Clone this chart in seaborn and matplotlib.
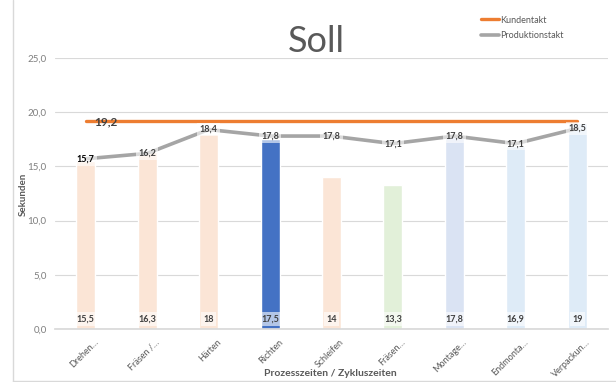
import matplotlib
matplotlib.use("Agg")
import matplotlib.pyplot as plt
from matplotlib.lines import Line2D
import matplotlib.transforms as mtransforms
import seaborn as sns
import pandas as pd

categories = ["Drehen…", "Fräsen /…", "Härten", "Richten", "Schleifen",
              "Fräsen…", "Montage…", "Endmonta…", "Verpackun…"]
prozesszeiten = [15.5, 16.3, 18, 17.5, 14, 13.3, 17.8, 16.9, 19]
produktionstakt = [15.7, 16.2, 18.4, 17.8, 17.8, 17.1, 17.8, 17.1, 18.5]
kundentakt = [19.2] * 9
bar_colors = ["#FBE5D6", "#FBE5D6", "#FBE5D6", "#4472C4", "#FBE5D6",
              "#E2F0D9", "#DAE3F3", "#DEEBF7", "#DEEBF7"]
yticks = [0, 5, 10, 15, 20, 25]

df = pd.DataFrame({"Kategorie": categories, "Prozess": prozesszeiten,
                   "Produktionstakt": produktionstakt, "Kundentakt": kundentakt})

sns.set_theme(style="white")
plt.rcParams["font.family"] = ["Lato", "DejaVu Sans"]

fig = plt.figure(figsize=(6.16, 3.82), dpi=100)
ax = fig.add_axes([55 / 616, 1 - 329 / 382, (608 - 55) / 616, (329 - 58) / 382])

gray_txt = "#595959"
grid_c = "#D9D9D9"

sns.barplot(data=df, x="Kategorie", y="Prozess", hue="Kategorie",
            palette=bar_colors, width=0.31, legend=False, ax=ax,
            saturation=1, zorder=2)
sns.lineplot(data=df, x="Kategorie", y="Kundentakt", color="#ED7D31",
             linewidth=2.4, ax=ax, zorder=3, sort=False)
sns.lineplot(data=df, x="Kategorie", y="Produktionstakt", color="#A5A5A5",
             linewidth=2.6, ax=ax, zorder=4, sort=False)

ax.set_xlim(-0.5, len(categories) - 0.5)
ax.set_ylim(0, 25)
ax.set_yticks(yticks)
ax.set_yticklabels([f"{v:.1f}".replace(".", ",") for v in yticks],
                   fontsize=7, color="#7F7F7F")
ax.yaxis.grid(True, color=grid_c, linewidth=0.8)
ax.set_axisbelow(True)
for s in ax.spines.values():
    s.set_visible(False)
ax.spines["bottom"].set_visible(True)
ax.spines["bottom"].set_color(grid_c)
ax.tick_params(axis="both", length=0, pad=6)
ax.set_xlabel("")
ax.set_ylabel("")

# x tick labels rotated
ax.set_xticks(range(len(categories)))
ax.set_xticklabels(categories, rotation=45, ha="right", rotation_mode="anchor",
                   fontsize=6.5, color=gray_txt)
offset = mtransforms.ScaledTranslation(8 / 100, 0, fig.dpi_scale_trans)
for lab in ax.get_xticklabels():
    lab.set_transform(lab.get_transform() + offset)

box = dict(boxstyle="square,pad=0.25", facecolor="white", edgecolor="none", alpha=0.6)
for i, v in enumerate(prozesszeiten):
    ax.text(i, 0.9, f"{v:g}".replace(".", ","), ha="center", va="center",
            fontsize=6.5, fontweight="bold", color="#404040", bbox=box, zorder=6)
for i, v in enumerate(produktionstakt):
    ax.text(i, v, f"{v:.1f}".replace(".", ","), ha="center", va="center",
            fontsize=6.5, fontweight="bold",
            color="#000000" if i == 0 else "#404040", bbox=box, zorder=6)
ax.text(0.33, kundentakt[0] - 0.05, f"{kundentakt[0]:.1f}".replace(".", ","),
        ha="center", va="center", fontsize=8.5, fontweight="bold",
        color="#404040", zorder=6)

fig.text(316 / 616, 1 - 42 / 382, "Soll", ha="center", va="center",
         fontsize=26, color=gray_txt, fontweight="normal")
fig.text(23 / 616, 1 - 194 / 382, "Sekunden", rotation=90, ha="center",
         va="center", fontsize=7, fontweight="bold", color=gray_txt)
fig.text(330 / 616, 1 - 373 / 382, "Prozesszeiten / Zykluszeiten", ha="center",
         va="center", fontsize=7.5, fontweight="bold", color=gray_txt)

handles = [Line2D([], [], color="#ED7D31", linewidth=2.4),
           Line2D([], [], color="#A5A5A5", linewidth=2.6)]
fig.legend(handles, ["Kundentakt", "Produktionstakt"], loc="upper left",
           bbox_to_anchor=(476 / 616, 1 - 11 / 382), frameon=False,
           fontsize=6.5, labelcolor=gray_txt, handlelength=2.0,
           handletextpad=0.2, labelspacing=0.7, borderpad=0)

fig.add_artist(Line2D([13 / 616, 13 / 616], [0, 1], color=grid_c,
                      linewidth=1, transform=fig.transFigure))
fig.add_artist(Line2D([13 / 616, 1], [1 / 382, 1 / 382], color=grid_c,
                      linewidth=1, transform=fig.transFigure))

fig.savefig("out.png", dpi=100)
